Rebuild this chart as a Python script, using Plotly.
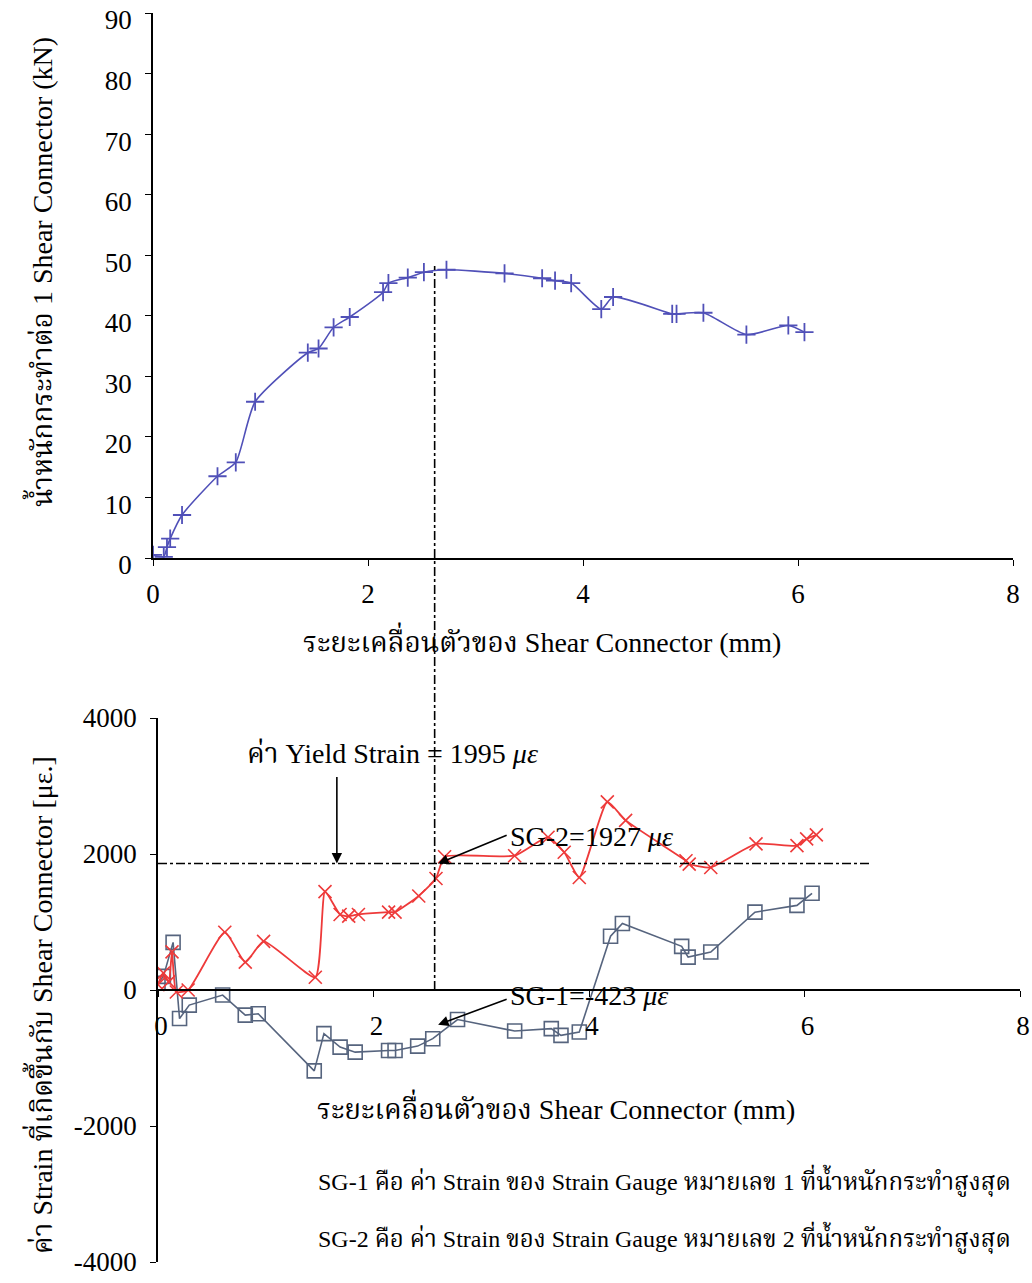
import plotly.graph_objects as go

W, H = 1032, 1283

# load vs slip (top chart)
slip_top = [0, 0.1, 0.13, 0.16, 0.27, 0.6, 0.77, 0.95, 1.44, 1.54, 1.68, 1.83, 2.14, 2.19,
            2.37, 2.52, 2.73, 3.27, 3.62, 3.74, 3.89, 4.17, 4.28, 4.83, 4.87, 5.12, 5.52, 5.91, 6.06]
load_top = [0.5, 0.2, 1.8, 3.2, 7.1, 13.5, 15.8, 25.8, 33.9, 34.6, 38.1, 39.8, 43.9, 45.4,
            46.3, 47.2, 47.6, 47.0, 46.2, 45.8, 45.4, 41.1, 43.1, 40.3, 40.3, 40.5, 36.9, 38.4, 37.3]

# strain gauge 2 (red)
slip_sg2 = [0, 0.05, 0.1, 0.13, 0.17, 0.28, 0.62, 0.81, 0.98, 1.46, 1.55, 1.69, 1.77, 1.86,
            2.14, 2.20, 2.42, 2.58, 2.66, 3.31, 3.62, 3.77, 3.91, 4.17, 4.34, 4.90, 4.93, 5.13,
            5.55, 5.93, 6.02, 6.11]
strain_sg2 = [80, 250, 120, 560, -30, 0, 850, 410, 716, 188, 1447, 1111, 1086, 1111,
              1146, 1146, 1383, 1640, 1960, 1975, 2247, 2025, 1655, 2766, 2494, 1901, 1852, 1802,
              2148, 2123, 2222, 2281]

# strain gauge 1 (blue)
slip_sg1 = [0, 0.05, 0.14, 0.20, 0.29, 0.60, 0.81, 0.93, 1.45, 1.54, 1.69, 1.83, 2.14, 2.20,
            2.41, 2.55, 2.78, 3.31, 3.65, 3.74, 3.91, 4.20, 4.31, 4.86, 4.92, 5.13, 5.54, 5.93, 6.07]
strain_sg1 = [100, 200, 700, -420, -222, -74, -370, -350, -1190, -642, -840, -914, -889, -889,
              -825, -716, -434, -603, -568, -667, -618, 790, 978, 642, 484, 558, 1145, 1244, 1422]

x_ticks = [0, 2, 4, 6, 8]
load_ticks = [0, 10, 20, 30, 40, 50, 60, 70, 80, 90]
strain_ticks = [-4000, -2000, 0, 2000, 4000]

yield_line = 1860
peak_slip = 2.6

FONT = "Liberation Serif, Times New Roman, Noto Serif Thai, Noto Sans Thai, serif"


def px(x):
    return x / W


def py(y):
    return 1 - y / H


fig = go.Figure()

fig.add_trace(go.Scatter(
    x=slip_top, y=load_top, mode="lines+markers",
    line=dict(color="#5050b8", width=1.6, shape="spline", smoothing=0.6),
    marker=dict(symbol="cross-thin-open", size=13, line=dict(color="#14146e", width=1.8)),
    xaxis="x", yaxis="y", showlegend=False,
))

fig.add_trace(go.Scatter(
    x=slip_sg1, y=strain_sg1, mode="lines+markers",
    line=dict(color="#56647e", width=1.6),
    marker=dict(symbol="square-open", size=14, line=dict(color="#1b2a55", width=1.6)),
    xaxis="x2", yaxis="y2", showlegend=False,
))

fig.add_trace(go.Scatter(
    x=slip_sg2, y=strain_sg2, mode="lines+markers",
    line=dict(color="#ee3a3a", width=1.8, shape="spline", smoothing=0.5),
    marker=dict(symbol="x-thin-open", size=13, line=dict(color="#e04848", width=1.6)),
    xaxis="x2", yaxis="y2", showlegend=False,
))

axis_common = dict(
    showline=True, linecolor="black", linewidth=1.6, showgrid=False, zeroline=False,
    ticks="outside", ticklen=6, tickwidth=1.4, tickcolor="black", automargin=False,
    ticklabeloverflow="allow",
    tickfont=dict(family=FONT, size=27, color="black"),
)

dom_top = [py(558), py(13)]
dom_bot = [py(1262), py(718)]
zero_pos = dom_bot[0] + (0 - (-4000)) / 8000 * (dom_bot[1] - dom_bot[0])

fig.update_layout(
    width=W, height=H,
    margin=dict(l=0, r=0, t=0, b=0),
    paper_bgcolor="white", plot_bgcolor="white",
    font=dict(family=FONT, color="black"),
    xaxis=dict(axis_common, domain=[px(153), px(1013)], range=[0, 8], tickvals=x_ticks,
               anchor="y", ticklabelstandoff=5),
    yaxis=dict(axis_common, domain=dom_top, range=[0, 90], tickvals=load_ticks,
               anchor="x", ticklabelstandoff=8, ticklabelshift=7),
    xaxis2=dict(axis_common, domain=[px(158), px(1020)], range=[0, 8], tickvals=x_ticks,
                anchor="free", position=zero_pos, ticklabelshift=3, ticklabelstandoff=6),
    yaxis2=dict(axis_common, domain=dom_bot, range=[-4000, 4000], tickvals=strain_ticks,
                ticktext=[str(v) for v in strain_ticks], anchor="x2", ticklabelstandoff=8),
)

# yield strain level and the peak-load slip line
fig.add_shape(type="line", xref="x2", yref="y2", x0=0, x1=6.62, y0=yield_line, y1=yield_line,
              line=dict(color="black", width=1.5, dash="dashdot"))
fig.add_shape(type="line", xref="x", yref="paper", x0=peak_slip + 0.02, x1=peak_slip + 0.02,
              y0=py(990), y1=py(266),
              line=dict(color="black", width=1.6, dash="dashdot"))

title_font = dict(family=FONT, size=28, color="black")
note_font = dict(family=FONT, size=24, color="black")

annotations = [
    dict(text="น้ำหนักกระทำต่อ 1 Shear Connector (kN)", x=px(40), y=py(272), textangle=-90),
    dict(text="ระยะเคลื่อนตัวของ Shear Connector (mm)", x=px(542), y=py(640)),
    dict(text="ค่า Strain ที่เกิดขึ้นกับ Shear Connector [με.]", x=px(40), y=py(1005), textangle=-90),
    dict(text="ระยะเคลื่อนตัวของ Shear Connector (mm)", x=px(556), y=py(1107)),
    dict(text="ค่า Yield Strain = 1995 <i>με</i>", x=px(392), y=py(754)),
    dict(text="SG-2=1927 <i>με</i>", x=px(508), y=py(836), xanchor="left"),
    dict(text="SG-1=-423 <i>με</i>", x=px(508), y=py(995), xanchor="left"),
]
for a in annotations:
    fig.add_annotation(xref="paper", yref="paper", showarrow=False, font=title_font,
                       **({"xanchor": "center", "yanchor": "middle"} | a))

for i, line in enumerate([
    "SG-1 คือ ค่า Strain ของ Strain Gauge หมายเลข 1 ที่น้ำหนักกระทำสูงสุด",
    "SG-2 คือ ค่า Strain ของ Strain Gauge หมายเลข 2 ที่น้ำหนักกระทำสูงสุด",
]):
    fig.add_annotation(xref="paper", yref="paper", x=px(316), y=py(1180 + 57 * i),
                       xanchor="left", yanchor="middle", text=line, showarrow=False,
                       font=note_font)

arrow = dict(showarrow=True, arrowhead=2, arrowsize=1.3, arrowwidth=1.6, arrowcolor="black",
             text="", xref="x2", yref="y2")
fig.add_annotation(x=1.66, y=yield_line, ax=0, ay=-88, **arrow)
fig.add_annotation(x=2.6, y=yield_line, ax=70, ay=-29, **arrow)
fig.add_annotation(x=2.6, y=-510, ax=70, ay=-26, **arrow)

# drop the page's default body margin so the figure fills the window exactly
fig.write_html("out.html", config={"displayModeBar": False},
               post_script="document.body.style.margin='0';")
